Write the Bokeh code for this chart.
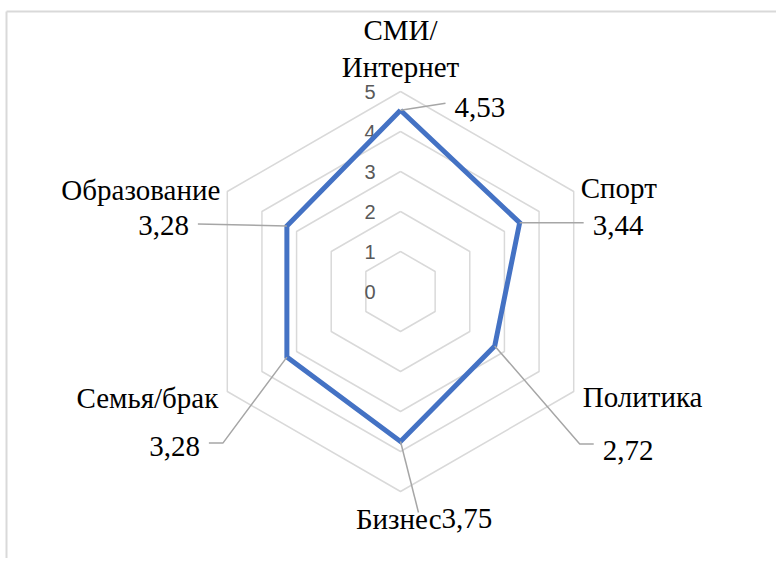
import math
from bokeh.plotting import figure
from bokeh.models import Range1d
from bokeh.core.properties import value
from bokeh.embed import file_html
from bokeh.resources import INLINE

# ---- data ----
categories = ["СМИ/\nИнтернет", "Спорт", "Политика", "Бизнес", "Семья/брак", "Образование"]
scores = [4.53, 3.44, 2.72, 3.75, 3.28, 3.28]
score_labels = ["4,53", "3,44", "2,72", "3,75", "3,28", "3,28"]
ticks = [0, 1, 2, 3, 4, 5]
tick_labels = ["0", "1", "2", "3", "4", "5"]

# ---- layout ----
PX = 40.0  # pixels per unit
SERIF = value("Liberation Serif")
FS = "29px"
n = len(categories)
angles = [i * 2 * math.pi / n for i in range(n)]

def polar(r, a):
    return r * math.sin(a), r * math.cos(a)

def off(x, y, dx, dy):
    return x + dx / PX, y - dy / PX

p = figure(width=776, height=558, x_range=Range1d(-10.0, 9.4), y_range=Range1d(-6.675, 7.275),
           output_backend="svg", toolbar_location=None, min_border=0)
p.axis.visible = False
p.grid.visible = False
p.outline_line_color = None
p.background_fill_color = "white"

# chart frame (top and left edges)
fx0 = -394 / PX
fy0 = (291 - 11) / PX
p.line([fx0, 9.4], [fy0, fy0], line_color="#d9d9d9", line_width=2)
p.line([fx0, fx0], [fy0, -6.675], line_color="#d9d9d9", line_width=2)

# rings
for t in ticks[1:]:
    xs, ys = zip(*[polar(t, a) for a in angles + [angles[0]]])
    p.line(list(xs), list(ys), line_color="#d9d9d9", line_width=1.5)

# tick labels
p.text(x=[-25 / PX] * len(ticks), y=[t + 0.0 for t in ticks], text=tick_labels,
       text_align="right", text_baseline="middle", text_color="#595959",
       text_font=value("Liberation Sans"), text_font_size="20px")

# series
pts = [polar(v, a) for v, a in zip(scores, angles)]
xs = [pt[0] for pt in pts] + [pts[0][0]]
ys = [pt[1] for pt in pts] + [pts[0][1]]
p.line(xs, ys, line_color="#4472C4", line_width=5, line_join="miter")

# leader lines (pixel offsets from data point) and value label offsets
leaders = [
    [(0, 0), (45, -7)],
    [(0, 0), (64, 0)],
    [(0, 0), (85, 98), (99, 98)],
    [(0, 0), (18, 71)],
    [(0, 0), (-64, 86), (-78, 86)],
    [(0, 0), (-89, -2)],
]
val_off = [(54, -3, "left"), (73, 3, "left"), (108, 105, "left"), (41, 77, "left"), (-87, 89, "right"), (-98, 0, "right")]
for (px_, py_), lead in zip(pts, leaders):
    lx = [off(px_, py_, dx, dy)[0] for dx, dy in lead]
    ly = [off(px_, py_, dx, dy)[1] for dx, dy in lead]
    p.line(lx, ly, line_color="#a6a6a6", line_width=1.5)

for (px_, py_), lab, (dx, dy, al) in zip(pts, score_labels, val_off):
    x, y = off(px_, py_, dx, dy)
    p.text(x=[x], y=[y], text=[lab], text_align=al, text_baseline="middle",
           text_color="black", text_font=SERIF, text_font_size=FS)

# category labels (pixel offsets from outer ring vertex)
cat_off = [(0, -43, "center"), (7, -4, "left"), (9, 5, "left"), (41, 27, "right"), (-9, 6, "right"), (-7, -2, "right")]
for a, cat, (dx, dy, al) in zip(angles, categories, cat_off):
    vx, vy = polar(ticks[-1], a)
    x, y = off(vx, vy, dx, dy)
    p.text(x=[x], y=[y], text=[cat], text_align=al, text_baseline="middle",
           text_color="black", text_font=SERIF, text_font_size=FS, text_line_height=1.15)

open("out.html", "w").write(file_html(p, INLINE))
